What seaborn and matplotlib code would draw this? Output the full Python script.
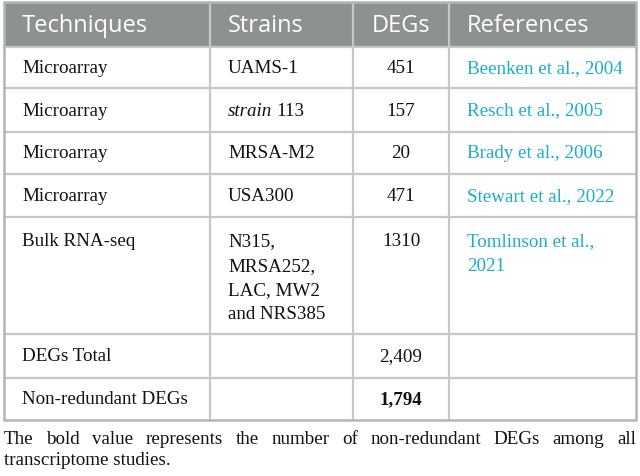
import matplotlib
matplotlib.use('Agg')
import matplotlib.pyplot as plt
import seaborn as sns
from matplotlib.patches import Rectangle

# table content
headers = ['Techniques', 'Strains', 'DEGs', 'References']
techniques = ['Microarray', 'Microarray', 'Microarray', 'Microarray', 'Bulk RNA-seq',
              'DEGs Total', 'Non-redundant DEGs']
strains = ['UAMS-1', 'strain 113', 'MRSA-M2', 'USA300',
           'N315,\nMRSA252,\nLAC, MW2\nand NRS385', '', '']
degs = ['451', '157', '20', '471', '1310', '2,409', '1,794']
references = ['Beenken et al., 2004', 'Resch et al., 2005', 'Brady et al., 2006',
              'Stewart et al., 2022', 'Tomlinson et al.,\n2021', '', '']
caption = ('The bold value represents the number of non-redundant DEGs among all '
           'transcriptome studies.')

sns.set_theme(style='white')
plt.rcParams['font.family'] = ['Liberation Serif', 'DejaVu Serif']

W, H = 640, 477
fig = plt.figure(figsize=(6.4, 4.77), dpi=100)
ax = fig.add_axes([0, 0, 1, 1])
ax.set_xlim(0, W)
ax.set_ylim(H, 0)
ax.axis('off')

col_x = [4, 210, 353, 449, 636]
row_y = [3, 48, 89, 133, 175, 218, 335, 379, 421]
pad = 18
grid_color = '#c4c8c6'
border_color = '#b0b8b5'
header_bg = '#8d9191'
link_color = '#1aaec6'
text_color = '#111111'
body_size = 13.7
head_size = 17
line_gap = 24.3

# header background
ax.add_patch(Rectangle((col_x[0], row_y[0]), col_x[-1] - col_x[0], row_y[1] - row_y[0],
                       facecolor=header_bg, edgecolor='none', zorder=1))

# grid lines
for y in row_y[1:-1]:
    ax.plot([col_x[0], col_x[-1]], [y, y], color=grid_color, lw=1.6, zorder=2)
for x in col_x[1:-1]:
    ax.plot([x, x], [row_y[0], row_y[-1]], color=grid_color, lw=1.6, zorder=2)
ax.add_patch(Rectangle((col_x[0], row_y[0]), col_x[-1] - col_x[0], row_y[-1] - row_y[0],
                       facecolor='none', edgecolor=border_color, lw=1.8, zorder=3))

# header text
for i, h in enumerate(headers):
    cy = (row_y[0] + row_y[1]) / 2
    if i == 2:
        ax.text((col_x[2] + col_x[3]) / 2, cy, h, ha='center', va='center',
                color='white', fontsize=head_size, family='Open Sans', zorder=4)
    else:
        ax.text(col_x[i] + pad, cy, h, ha='left', va='center',
                color='white', fontsize=head_size, family='Open Sans', zorder=4)

# body rows
for r in range(len(techniques)):
    top = row_y[r + 1]
    cy = top + 24 if r == 4 else (row_y[r + 1] + row_y[r + 2]) / 2
    ax.text(col_x[0] + pad, cy, techniques[r], ha='left', va='center',
            fontsize=body_size, color=text_color, zorder=4)
    for j, line in enumerate(strains[r].split('\n')):
        if not line:
            continue
        yy = cy + j * line_gap
        if line.startswith('strain '):
            t = ax.text(col_x[1] + pad, yy, 'strain', ha='left', va='center',
                        fontsize=body_size, style='italic', color=text_color, zorder=4)
            fig.canvas.draw()
            bb = t.get_window_extent()
            ax.text(col_x[1] + pad + bb.width + 4, yy, line[len('strain '):], ha='left',
                    va='center', fontsize=body_size, color=text_color, zorder=4)
        else:
            ax.text(col_x[1] + pad, yy, line, ha='left', va='center',
                    fontsize=body_size, color=text_color, zorder=4)
    ax.text((col_x[2] + col_x[3]) / 2, cy, degs[r], ha='center', va='center',
            fontsize=body_size, color=text_color,
            fontweight='bold' if r == len(techniques) - 1 else 'normal', zorder=4)
    for j, line in enumerate(references[r].split('\n')):
        if line:
            ax.text(col_x[3] + pad, cy + j * line_gap, line, ha='left', va='center',
                    fontsize=body_size, color=link_color, zorder=4)

# justified caption
fig.canvas.draw()
renderer = fig.canvas.get_renderer()
words = caption.split(' ')
first = words[:11]
second = ' '.join(words[11:])
widths = []
for w in first:
    t = ax.text(0, 0, w, fontsize=body_size)
    widths.append(t.get_window_extent(renderer).width)
    t.remove()
gap = (col_x[-1] - col_x[0] - sum(widths)) / (len(first) - 1)
x = col_x[0]
for w, wd in zip(first, widths):
    ax.text(x, 440, w, ha='left', va='center', fontsize=body_size, color=text_color)
    x += wd + gap
ax.text(col_x[0], 461, second, ha='left', va='center', fontsize=body_size, color=text_color)

fig.savefig('out.png', dpi=100)
